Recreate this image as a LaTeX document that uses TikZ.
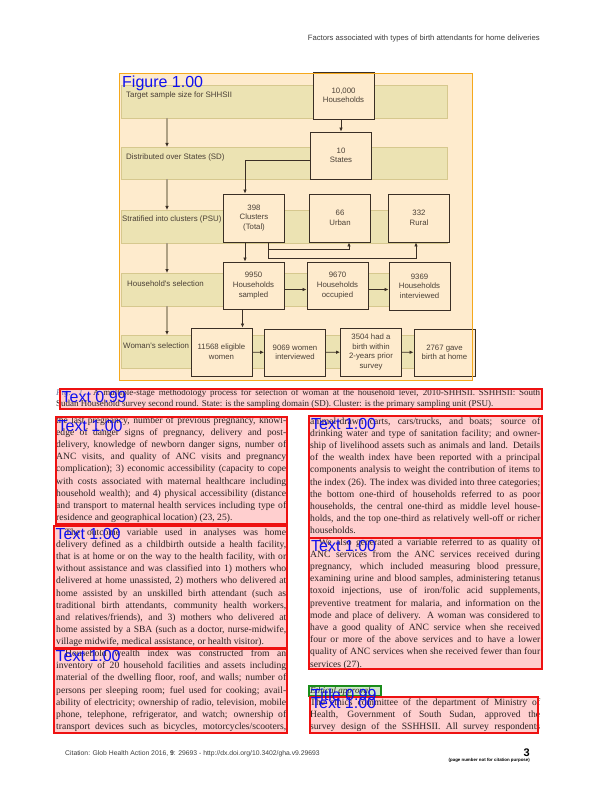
\documentclass[tikz,border=0pt]{standalone}
\usepackage{fontspec}
\setmainfont{Liberation Serif}
\newfontfamily\figsans{Liberation Sans}
\usetikzlibrary{arrows.meta,positioning}

\definecolor{zonepeach}{HTML}{FEEBCD}
\definecolor{zoneline}{HTML}{F5A81C}
\definecolor{txtpink}{HTML}{FFCFCF}
\definecolor{txtline}{HTML}{EE1111}
\definecolor{ttlgreen}{HTML}{CDE6C8}
\definecolor{ttlline}{HTML}{1A8C1A}
\definecolor{lblblue}{HTML}{1010F0}
\definecolor{bandfill}{HTML}{ECE3B3}
\definecolor{bandline}{HTML}{D6C88E}
\definecolor{boxline}{HTML}{3A2F25}
\definecolor{figtext}{HTML}{4A4036}
\definecolor{leadline}{HTML}{AFA184}
\definecolor{bodytext}{HTML}{2A2222}
\definecolor{hdrtext}{HTML}{3C3C3C}
\definecolor{figlbl}{HTML}{7282A8}

\newlength{\colw}
\newcommand{\jl}[1]{\hbox to\colw{#1}}
\newcommand{\el}[1]{\hbox{#1}}

\tikzset{
  zone/.style={anchor=north west, inner sep=0pt, outer sep=0pt},
  hitlbl/.style={anchor=base west, inner sep=0pt, text=lblblue, font=\figsans\fontsize{16}{18}\selectfont},
  bodytxt/.style={anchor=base west, inner sep=0pt, text=bodytext, font=\fontsize{9.6}{12.2}\selectfont},
  band/.style={zone, fill=bandfill, draw=bandline, line width=0.6pt, minimum width=326pt},
  bandlbl/.style={anchor=base west, inner sep=0pt, text=figtext, font=\figsans\fontsize{7.9}{9.6}\selectfont},
  cnt/.style={draw=boxline, fill=zonepeach, line width=0.9pt, minimum width=61pt, minimum height=47pt,
    inner sep=1pt, align=center, text=figtext, font=\figsans\fontsize{7.8}{9.6}\selectfont},
  flow/.style={draw=boxline, line width=0.9pt, -{Latex[length=4pt,width=3.6pt]}},
  lead/.style={draw=leadline, line width=1.1pt, -{Latex[length=4pt,width=3.6pt,color=boxline]}}
}

\begin{document}
\begin{tikzpicture}[x=1pt,y=-1pt]
\useasboundingbox (0,0) rectangle (596,794);
%% detection zones (fills)
\node[zone, fill=zonepeach, minimum width=353pt, minimum height=306pt] (zfig) at (119,74) {};
\node[zone, fill=txtpink, minimum width=482pt, minimum height=20pt] (zcap) at (60,389) {};
\node[zone, fill=txtpink, minimum width=231pt, minimum height=107pt] (za1) at (56,417) {};
\node[zone, fill=txtpink, minimum width=233pt, minimum height=123pt] (za2) at (54,526) {};
\node[zone, fill=txtpink, minimum width=233pt, minimum height=85pt] (za3) at (54,648) {};
\node[zone, fill=txtpink, minimum width=233pt, minimum height=122pt] (zb1) at (309,416) {};
\node[zone, fill=txtpink, minimum width=233pt, minimum height=131pt] (zb2) at (309,538) {};
\node[zone, fill=ttlgreen, minimum width=72pt, minimum height=10pt] (zttl) at (309,686) {};
\node[zone, fill=txtpink, minimum width=228pt, minimum height=36pt] (zb3) at (310,697) {};

%% running head and foot
\node[anchor=base east, inner sep=0pt, text=hdrtext, font=\figsans\fontsize{7.7}{9}\selectfont] (hdr) at (540,41)
  {Factors associated with types of birth attendants for home deliveries};
\node[anchor=base west, inner sep=0pt, text=hdrtext, font=\figsans\fontsize{6.8}{8}\selectfont] (cite) at (65,755)
  {Citation: Glob Health Action 2016, \textbf{9}: 29693 - http://dx.doi.org/10.3402/gha.v9.29693};
\node[anchor=base east, inner sep=0pt, font=\figsans\bfseries\fontsize{11}{12}\selectfont] (pg) at (530,756) {3};
\node[anchor=base east, inner sep=0pt, font=\figsans\bfseries\fontsize{4.4}{5}\selectfont] (pgnote) at (530,761)
  {(page number not for citation purpose)};

%% caption and columns
\node[bodytxt, font=\fontsize{9}{11.5}\selectfont] (capt) at (56,395) {\vtop{\setlength{\colw}{484pt}%
  \jl{{\color{figlbl}\textit{Fig. 1.}}\ \ A multiple-stage methodology process for selection of woman at the household level, 2010-SHHSII. SSHHSII: South}
  \el{Sudan Household survey second round. State: is the sampling domain (SD). Cluster: is the primary sampling unit (PSU).}}};

\node[bodytxt] (cola1) at (56,423) {\vtop{\setlength{\colw}{230pt}%
  \jl{the last pregnancy, number of previous pregnancy, knowl-}
  \jl{edge of danger signs of pregnancy, delivery and post-}
  \jl{delivery, knowledge of newborn danger signs, number of}
  \jl{ANC visits, and quality of ANC visits and pregnancy}
  \jl{complication); 3) economic accessibility (capacity to cope}
  \jl{with costs associated with maternal healthcare including}
  \jl{household wealth); and 4) physical accessibility (distance}
  \jl{and transport to maternal health services including type of}
  \el{residence and geographical location) (23, 25).}}};

\node[bodytxt] (cola2) at (56,535) {\vtop{\setlength{\colw}{230pt}%
  \jl{\hspace*{9pt}The outcome variable used in analyses was home}
  \jl{delivery defined as a childbirth outside a health facility,}
  \jl{that is at home or on the way to the health facility, with or}
  \jl{without assistance and was classified into 1) mothers who}
  \jl{delivered at home unassisted, 2) mothers who delivered at}
  \jl{home assisted by an unskilled birth attendant (such as}
  \jl{traditional birth attendants, community health workers,}
  \jl{and relatives/friends), and 3) mothers who delivered at}
  \jl{home assisted by a SBA (such as a doctor, nurse-midwife,}
  \el{village midwife, medical assistance, or health visitor).}}};

\node[bodytxt] (cola3) at (56,656.5) {\vtop{\setlength{\colw}{230pt}%
  \jl{\hspace*{9pt}Household wealth index was constructed from an}
  \jl{inventory of 20 household facilities and assets including}
  \jl{material of the dwelling floor, roof, and walls; number of}
  \jl{persons per sleeping room; fuel used for cooking; avail-}
  \jl{ability of electricity; ownership of radio, television, mobile}
  \jl{phone, telephone, refrigerator, and watch; ownership of}
  \jl{transport devices such as bicycles, motorcycles/scooters,}}};

\node[bodytxt] (colb1) at (310,424) {\vtop{\setlength{\colw}{230pt}%
  \jl{animal-drawn carts, cars/trucks, and boats; source of}
  \jl{drinking water and type of sanitation facility; and owner-}
  \jl{ship of livelihood assets such as animals and land. Details}
  \jl{of the wealth index have been reported with a principal}
  \jl{components analysis to weight the contribution of items to}
  \jl{the index (26). The index was divided into three categories;}
  \jl{the bottom one-third of households referred to as poor}
  \jl{households, the central one-third as middle level house-}
  \jl{holds, and the top one-third as relatively well-off or richer}
  \el{households.}}};

\node[bodytxt] (colb2) at (310,545) {\vtop{\setlength{\colw}{230pt}%
  \jl{\hspace*{9pt}We also generated a variable referred to as quality of}
  \jl{ANC services from the ANC services received during}
  \jl{pregnancy, which included measuring blood pressure,}
  \jl{examining urine and blood samples, administering tetanus}
  \jl{toxoid injections, use of iron/folic acid supplements,}
  \jl{preventive treatment for malaria, and information on the}
  \jl{mode and place of delivery. A woman was considered to}
  \jl{have a good quality of ANC service when she received}
  \jl{four or more of the above services and to have a lower}
  \jl{quality of ANC services when she received fewer than four}
  \el{services (27).}}};

\node[bodytxt, font=\itshape\fontsize{9}{11}\selectfont] (ethic) at (310,693) {Ethical approval};

\node[bodytxt] (colb3) at (310,705) {\vtop{\setlength{\colw}{230pt}%
  \jl{The ethics committee of the department of Ministry of}
  \jl{Health, Government of South Sudan, approved the}
  \jl{survey design of the SSHHSII. All survey respondents}}};

%% figure: stage bands
\node[band, minimum height=33pt] (b1) at (121,85) {};
\node[band, minimum height=32pt] (b2) at (121,147) {};
\node[band, minimum height=33pt] (b3) at (121,210) {};
\node[band, minimum height=33pt] (b4) at (121,273) {};
\node[band, minimum height=33pt] (b5) at (121,335) {};
\node[bandlbl] (lb1) at (126,98) {Target sample size for SHHSII};
\node[bandlbl] (lb2) at (126,160) {Distributed over States (SD)};
\node[bandlbl] (lb3) at (122,222) {Stratified into clusters (PSU)};
\node[bandlbl] (lb4) at (127,286) {Household's selection};
\node[bandlbl] (lb5) at (123,348) {Woman's selection};
\draw[lead] ([xshift=46pt]b1.south west) -- ([xshift=46pt]b2.north west);
\draw[lead] ([xshift=46pt]b2.south west) -- ([xshift=46pt]b3.north west);
\draw[lead] ([xshift=46pt]b3.south west) -- ([xshift=46pt]b4.north west);
\draw[lead] ([xshift=46pt]b4.south west) -- ([xshift=46pt]b5.north west);

%% figure: counts
\node[cnt] (h10k) at (343.5,95.5) {10,000\\Households};
\node[cnt] (st10) at (341,155.5) {10\\States};
\node[cnt, minimum height=48pt] (cl398) at (254,218) {398\\Clusters\\(Total)};
\node[cnt, minimum height=48pt] (urb) at (340,218) {66\\Urban};
\node[cnt, minimum height=48pt] (rur) at (419,218) {332\\Rural};
\node[cnt] (hs9950) at (253.5,285.5) {9950\\Households\\sampled};
\node[cnt] (ho9670) at (337.5,285.5) {9670\\Households\\occupied};
\node[cnt, minimum height=48pt] (hi9369) at (419.5,286) {9369\\Households\\interviewed};
\node[cnt, minimum height=48pt] (ew) at (221.5,352) {11568 eligible\\women};
\node[cnt] (wi) at (295,352.5) {9069 women\\interviewed};
\node[cnt, minimum height=48pt] (bw) at (371,352) {3504 had a\\birth within\\2-years prior\\survey};
\node[cnt] (bh) at (444.5,352.5) {2767 gave\\birth at home};

\draw[flow] (h10k.south -| st10.north) -- (st10.north);
\draw[flow] ([yshift=-5pt]st10.west) -| ([xshift=-9pt]cl398.north);
\draw[flow] ([xshift=14pt]cl398.south) -- ++(0,7) -| ([xshift=9pt]urb.south);
\draw[flow] ([xshift=14pt]cl398.south) -- ++(0,16) -| ([xshift=-3pt]rur.south);
\draw[flow] ([xshift=-9pt]cl398.south) -- ([xshift=-9pt]cl398.south |- hs9950.north);
\draw[flow] ([yshift=-4pt]hs9950.east) -- ([yshift=-4pt]hs9950.east -| ho9670.west);
\draw[flow] ([yshift=-4pt]ho9670.east) -- ([yshift=-4pt]ho9670.east -| hi9369.west);
\draw[flow] ([xshift=-11pt]hs9950.south) -- ([xshift=-11pt]hs9950.south |- ew.north);
\draw[flow] (ew) -- (wi);
\draw[flow] (wi) -- (bw);
\draw[flow] (bw) -- (bh);

%% detection zones (frames and scores)
\draw[zoneline, line width=1pt] (zfig.north west) rectangle (zfig.south east);
\draw[txtline, line width=1.2pt] (zcap.north west) rectangle (zcap.south east);
\draw[txtline, line width=1.2pt] (za1.north west) rectangle (za1.south east);
\draw[txtline, line width=1.2pt] (za2.north west) rectangle (za2.south east);
\draw[txtline, line width=1.2pt] (za3.north west) rectangle (za3.south east);
\draw[txtline, line width=1.2pt] (zb1.north west) rectangle (zb1.south east);
\draw[txtline, line width=1.2pt] (zb2.north west) rectangle (zb2.south east);
\draw[ttlline, line width=1.2pt] (zttl.north west) rectangle (zttl.south east);
\draw[txtline, line width=1.2pt] (zb3.north west) rectangle (zb3.south east);
\node[hitlbl] (sfig) at ([shift={(3pt,-14pt)}]zfig.north west) {Figure 1.00};
\node[hitlbl] (scap) at ([shift={(1.5pt,-13pt)}]zcap.north west) {Text 0.99};
\node[hitlbl] (sa1) at ([shift={(1.5pt,-14pt)}]za1.north west) {Text 1.00};
\node[hitlbl] (sa2) at ([shift={(1.5pt,-13.5pt)}]za2.north west) {Text 1.00};
\node[hitlbl] (sa3) at ([shift={(1.5pt,-13.5pt)}]za3.north west) {Text 1.00};
\node[hitlbl] (sb1) at ([shift={(2pt,-13.5pt)}]zb1.north west) {Text 1.00};
\node[hitlbl] (sb2) at ([shift={(2pt,-13.5pt)}]zb2.north west) {Text 1.00};
\node[hitlbl] (sttl) at ([shift={(2pt,-14pt)}]zttl.north west) {Title 0.99};
\node[hitlbl] (sb3) at ([shift={(1pt,-11pt)}]zb3.north west) {Text 1.00};
\end{tikzpicture}
\end{document}
